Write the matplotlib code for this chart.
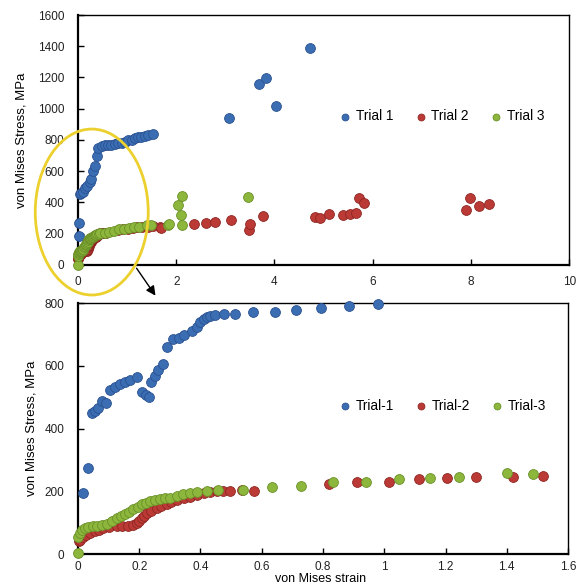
import matplotlib
matplotlib.use("Agg")
import matplotlib.pyplot as plt
from matplotlib.patches import Ellipse
import numpy as np

plt.rcParams['font.family'] = ['Liberation Sans', 'DejaVu Sans']

# ---------------- data: top panel (full range) ----------------
top_t1_x = [0.02, 0.02, 0.04, 0.07, 0.11, 0.14, 0.19, 0.24, 0.26, 0.31, 0.35, 0.38, 0.41, 0.48,
            0.55, 0.62, 0.68, 0.75, 0.82, 0.89, 0.95, 1.02, 1.09, 1.16, 1.22, 1.29, 1.36, 1.43, 1.53,
            3.08, 3.68, 3.83, 4.04, 4.73]
top_t1_y = [186, 267, 455, 462, 469, 495, 505, 533, 548, 600, 635, 700, 747, 760,
            765, 768, 770, 774, 778, 783, 790, 798, 803, 811, 816, 821, 826, 832, 836,
            939, 1158, 1195, 1020, 1387]

top_t2_extra_x = [1.67, 1.70, 2.37, 2.61, 2.79, 3.12, 3.48, 3.51, 3.77, 4.82, 4.92, 5.12, 5.39,
                  5.53, 5.66, 5.73, 5.82, 7.90, 7.99, 8.16, 8.36]
top_t2_extra_y = [241, 235, 262, 271, 277, 288, 222, 262, 314, 309, 299, 326, 320,
                  324, 335, 427, 395, 352, 427, 378, 388]

top_t3_extra_x = [1.84, 1.86, 2.04, 2.09, 2.11, 2.11, 3.46]
top_t3_extra_y = [256, 262, 384, 320, 442, 256, 437]

# ---------------- data: bottom panel (zoom) ----------------
t1_x = [0.015, 0.034, 0.045, 0.055, 0.066, 0.077, 0.092, 0.105, 0.121, 0.137, 0.154, 0.170,
        0.192, 0.208, 0.222, 0.233, 0.239, 0.252, 0.262, 0.279, 0.290, 0.311, 0.330, 0.347,
        0.372, 0.390, 0.400, 0.410, 0.420, 0.430, 0.448, 0.477, 0.513, 0.570, 0.642, 0.712,
        0.793, 0.886, 0.978]
t1_y = [193, 273, 448, 455, 466, 488, 482, 522, 532, 543, 549, 554,
        563, 515, 506, 501, 549, 568, 586, 607, 660, 684, 690, 697,
        711, 722, 738, 750, 756, 760, 763, 766, 766, 771, 772, 779,
        784, 791, 798]

t2_x = [0.003, 0.007, 0.015, 0.025, 0.039, 0.055, 0.070, 0.083, 0.100, 0.126, 0.145, 0.164,
        0.180, 0.192, 0.200, 0.208, 0.216, 0.224, 0.240, 0.257, 0.272, 0.290, 0.305, 0.322,
        0.345, 0.366, 0.390, 0.410, 0.430, 0.453, 0.475, 0.497, 0.535, 0.576, 0.818, 0.911,
        1.014, 1.112, 1.204, 1.300, 1.420, 1.517]
t2_y = [40, 45, 55, 62, 66, 72, 78, 82, 86, 89, 89, 89,
        92, 98, 105, 114, 122, 130, 138, 146, 152, 159, 166, 172,
        177, 182, 188, 193, 198, 202, 202, 202, 204, 202, 223, 228,
        231, 238, 243, 246, 244, 248]

t3_x = [0.000, 0.001, 0.006, 0.012, 0.022, 0.034, 0.048, 0.061, 0.078, 0.094, 0.110, 0.126,
        0.140, 0.154, 0.168, 0.181, 0.195, 0.208, 0.222, 0.235, 0.250, 0.268, 0.285, 0.301,
        0.322, 0.344, 0.366, 0.388, 0.420, 0.458, 0.540, 0.633, 0.728, 0.832, 0.941, 1.047,
        1.148, 1.244, 1.400, 1.485]
t3_y = [2, 55, 68, 76, 82, 87, 88, 89, 92, 95, 104, 114,
        120, 126, 134, 142, 150, 158, 164, 169, 172, 175, 178, 180,
        186, 191, 195, 198, 201, 203, 204, 212, 218, 228, 231, 238,
        243, 244, 257, 255]

top_labels = ['Trial 1', 'Trial 2', 'Trial 3']
bottom_labels = ['Trial-1', 'Trial-2', 'Trial-3']
colors = ['#3b6db3', '#bb3a35', '#8db63c']
edges = ['#2a5190', '#8e2623', '#6a9028']

fig = plt.figure(figsize=(5.82, 5.86), dpi=100)
ax1 = fig.add_axes([0.134, 0.5478, 0.844, 0.4266])
ax2 = fig.add_axes([0.134, 0.0546, 0.842, 0.4283])

top_series = [
    (top_t1_x, top_t1_y),
    (t2_x + top_t2_extra_x, t2_y + top_t2_extra_y),
    (t3_x + top_t3_extra_x, t3_y + top_t3_extra_y),
]
bot_series = [(t1_x, t1_y), (t2_x, t2_y), (t3_x, t3_y)]

for ax, series, labels, legy, lpad in [(ax1, top_series, top_labels, 0.595, 7),
                                       (ax2, bot_series, bottom_labels, 0.59, 5)]:
    for (x, y), c, e, lab in zip(series, colors, edges, labels):
        ax.scatter(x, y, s=50, color=c, edgecolors=e, linewidths=0.6, label=lab, zorder=3,
                   clip_on=False)
    for sp in ax.spines.values():
        sp.set_color('black')
        sp.set_linewidth(1.0)
    ax.spines['left'].set_linewidth(1.6)
    ax.spines['bottom'].set_linewidth(1.6)
    ax.tick_params(direction='in', length=4, width=1, labelsize=8.5, colors='black',
                   labelcolor='#222222')
    ax.tick_params(axis='y', pad=10)
    ax.set_ylabel('von Mises Stress, MPa', fontsize=9.5, labelpad=lpad)
    ax.legend(loc='center left', bbox_to_anchor=(0.505, legy), ncol=3, frameon=False,
              fontsize=9.8, handletextpad=-0.2, columnspacing=1.0, markerscale=0.7,
              borderaxespad=0)

ax1.set_xlim(0, 10)
ax1.set_ylim(0, 1600)
ax1.set_xticks(np.arange(0, 11, 2))
ax1.set_yticks(np.arange(0, 1601, 200))
ax1.tick_params(axis='x', pad=8)

ax2.set_xlim(0, 1.6)
ax2.set_ylim(0, 800)
ax2.set_xticks([0, 0.2, 0.4, 0.6, 0.8, 1.0, 1.2, 1.4, 1.6])
ax2.set_xticklabels(['0', '0.2', '0.4', '0.6', '0.8', '1', '1.2', '1.4', '1.6'])
ax2.set_yticks([0, 200, 400, 600, 800])
ax2.tick_params(axis='x', pad=5)

# yellow ellipse highlighting the zoomed region
ell = Ellipse((0.28, 339), width=2.30, height=1062, fill=False, edgecolor='#ecd12e',
              linewidth=2.0, clip_on=False, zorder=5)
ax1.add_patch(ell)
ax1.annotate('', xy=(1.61, -211), xytext=(1.16, -6), annotation_clip=False,
             arrowprops=dict(arrowstyle='-|>', color='black', lw=1.0, mutation_scale=14))

fig.text(0.55, 0.012, 'von Mises strain', ha='center', va='center', fontsize=9)

fig.savefig('out.png', dpi=100)
